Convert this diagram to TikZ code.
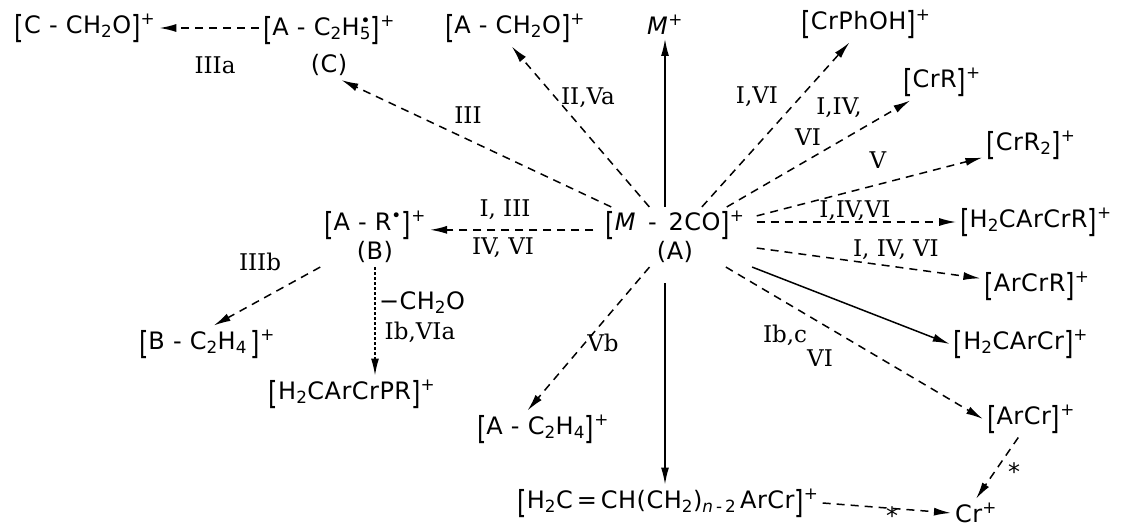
\documentclass[tikz,border=0pt]{standalone}
\usepackage{fontspec}
\usepackage{tikz}
\usetikzlibrary{arrows.meta}
\newfontfamily\chemfont{DejaVu Sans}[LetterSpace=2]
\newfontfamily\labfont{DejaVu Serif}
\newcommand{\chlb}{\raisebox{-0.2em}{\scalebox{1}[1.32]{[}}}
\newcommand{\chrb}{\raisebox{-0.2em}{\scalebox{1}[1.32]{]}}}
\newcommand{\chsub}[1]{\textsubscript{#1}}
\newcommand{\chsup}[1]{\textsuperscript{#1}}

\begin{document}
\begin{tikzpicture}[x=1pt, y=-1pt,
  chem/.style={font=\chemfont\fontsize{24}{29}\selectfont, inner sep=4pt},
  lab/.style={font=\labfont\fontsize{23}{27}\selectfont, inner sep=1pt},
  arr/.style={-{Latex[length=17pt,width=8pt]}, line width=1.5pt},
  dasharr/.style={arr, dash pattern=on 8pt off 6pt},
  dotarr/.style={arr, dash pattern=on 3pt off 2pt}]
  \useasboundingbox (0,0) rectangle (1125,526);

  % --- ions with a letter below ---
  \node[chem, align=center, inner xsep=12pt] (ma) at (675,237) {\chlb\textit{M}\enspace-\enspace 2CO\chrb\chsup{+}\\(A)};
  \node[chem, align=center] (ar) at (375,237) {\chlb A - R\chsup{\textbullet}\chrb\chsup{+}\\(B)};
  \node[chem, align=center] (ac2h5) at (329,46) {\chlb A - C\chsub{2}H\chsub{5}\llap{\chsup{\textbullet}}\chrb\chsup{+}\\[8pt](C)};

  % --- other ions ---
  \node[chem] (cch2o) at (85,28) {\chlb C - CH\chsub{2}O\chrb\chsup{+}};
  \node[chem] (ach2o) at (515,28) {\chlb A - CH\chsub{2}O\chrb\chsup{+}};
  \node[chem] (mplus) at (665,25) {\textit{M}\chsup{+}};
  \node[chem] (crphoh) at (866,24) {\chlb CrPhOH\chrb\chsup{+}};
  \node[chem] (crr) at (942,82) {\chlb CrR\chrb\chsup{+}};
  \node[chem] (crr2) at (1031,145) {\chlb CrR\chsub{2}\chrb\chsup{+}};
  \node[chem] (h2carcrr) at (1036,222) {\chlb H\chsub{2}CArCrR\chrb\chsup{+}};
  \node[chem] (arcrr) at (1037,286) {\chlb ArCrR\chrb\chsup{+}};
  \node[chem] (h2carcr) at (1021,344) {\chlb H\chsub{2}CArCr\chrb\chsup{+}};
  \node[chem] (arcr) at (1031,419) {\chlb ArCr\chrb\chsup{+}};
  \node[chem] (crp) at (976,513) {Cr\chsup{+}};
  \node[chem] (chain) at (668,503) {\chlb H\chsub{2}C\,=\,CH(CH\chsub{2})\chsub{\textit{n}\,-\,2}\,ArCr\chrb\chsup{+}};
  \node[chem] (ac2h4) at (543,429) {\chlb A - C\chsub{2}H\chsub{4}\chrb\chsup{+}};
  \node[chem] (bc2h4) at (207,344) {\chlb B - C\chsub{2}H\chsub{4}\,\chrb\chsup{+}};
  \node[chem] (h2carcrpr) at (352,394) {\chlb H\chsub{2}CArCrPR\chrb\chsup{+}};

  % --- fragmentation arrows ---
  \draw[arr] (ma.north -| mplus) -- (mplus);
  \draw[arr, shorten <=16pt] (ma.south -| mplus) -- (chain.north -| mplus);
  \draw[dasharr] (ma) -- (ach2o.-100);
  \draw[dasharr] (ma) -- (ac2h5.-70);
  \draw[dasharr] (ma.175) -- (ma.175 -| ar.east);
  \draw[dasharr] (ma) -- (ac2h4.130);
  \draw[dasharr] (ma) -- (crphoh);
  \draw[dasharr] (ma) -- (crr);
  \draw[dasharr] (ma) -- (crr2);
  \draw[dasharr] (ma.east |- h2carcrr) -- (h2carcrr);
  \draw[dasharr] (ma) -- (arcrr);
  \draw[arr] (ma) -- (h2carcr.west);
  \draw[dasharr] (ma) -- (arcr.west);
  \draw[dasharr] (ac2h5.west |- cch2o) -- (cch2o);
  \draw[dasharr] (ar) -- (bc2h4.70);
  \draw[dotarr] (ar.south) -- (ar.south |- h2carcrpr.north);
  \draw[dasharr] (arcr) -- (crp.north);
  \draw[dasharr] (chain.east) -- (crp.west);

  % --- labels ---
  \node[lab] (lab3a) at (215,65) {IIIa};
  \node[lab] (lab3) at (468,115) {III};
  \node[lab] (lab2va) at (588,98) {II,Va};
  \node[lab] (lab1vi) at (757,97) {I,VI};
  \node[lab] (lab14a) at (839,108) {I,IV,};
  \node[lab] (lab14b) at (808,137) {VI};
  \node[lab] (lab5) at (878,160) {V};
  \node[lab] (lab146a) at (855,211) {I,IV,VI};
  \node[lab] (lab146b) at (896,250) {I, IV, VI};
  \node[lab] (lab13) at (505,210) {I, III};
  \node[lab] (lab46) at (503,248) {IV, VI};
  \node[lab] (lab3b) at (260,262) {IIIb};
  \node[chem, inner sep=1pt] (labch2o) at (422,303) {−CH\chsub{2}O};
  \node[lab] (labib) at (420,332) {Ib,VIa};
  \node[lab] (labvb) at (603,343) {Vb};
  \node[lab] (labibc) at (785,335) {Ib,c};
  \node[lab] (labvi) at (820,358) {VI};
  \node[chem, inner sep=0pt, anchor=north] (star1) at (892,506) {*};
  \node[chem, inner sep=0pt, anchor=north] (star2) at (1014,462) {*};
\end{tikzpicture}
\end{document}
